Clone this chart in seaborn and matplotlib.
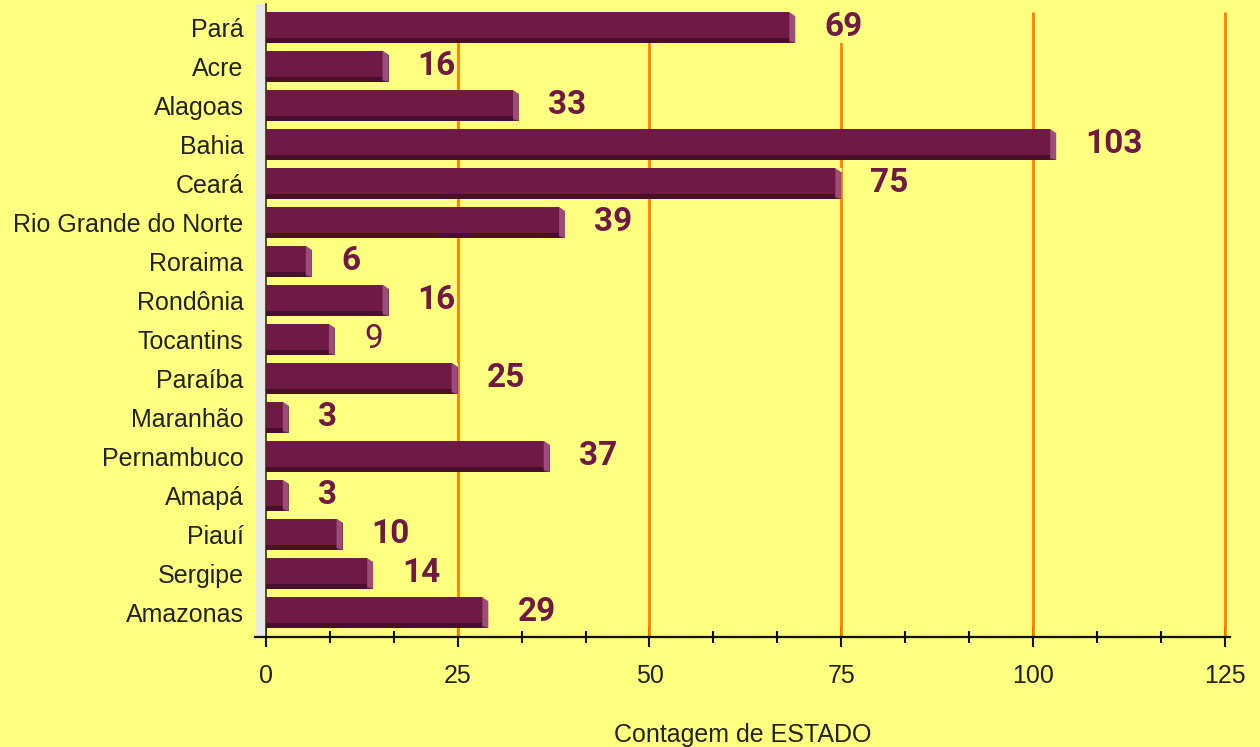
import matplotlib
matplotlib.use("Agg")
import matplotlib.pyplot as plt
import seaborn as sns
import pandas as pd
from matplotlib.patches import Polygon, Rectangle

states = ["Pará", "Acre", "Alagoas", "Bahia", "Ceará", "Rio Grande do Norte",
          "Roraima", "Rondônia", "Tocantins", "Paraíba", "Maranhão",
          "Pernambuco", "Amapá", "Piauí", "Sergipe", "Amazonas"]
counts = [69, 16, 33, 103, 75, 39, 6, 16, 9, 25, 3, 37, 3, 10, 14, 29]
bold_labels = [True] * 16
bold_labels[8] = False  # "9" is drawn in regular weight
x_ticks = [0, 25, 50, 75, 100, 125]
x_label = "Contagem de ESTADO"

BG = "#FFFF80"
BAR = "#6E1A45"
DARK = "#4A0E2D"
LIGHT = "#9C4C7B"
GRID = "#FF7F00"

sns.set_theme(style="white")
plt.rcParams["font.family"] = ["Liberation Sans", "DejaVu Sans"]

df = pd.DataFrame({"ESTADO": states, "n": counts})

fig = plt.figure(figsize=(12.6, 7.47), dpi=100, facecolor=BG)
ax = fig.add_axes([0.2024, 0.1473, 0.9759 - 0.2024, 0.9946 - 0.1473])
ax.set_facecolor(BG)

sns.barplot(data=df, x="n", y="ESTADO", orient="h", color=BAR, width=0.795,
            saturation=1, ax=ax, zorder=3, edgecolor="none", linewidth=0)

ax.set_xlim(-1.4, 125.6)
ax.set_ylim(15.63, -0.6)

# gray side wall
ax.axvspan(-1.3, 0, color="#E8E8E8", zorder=1, lw=0)

# grid lines
for t in x_ticks[1:]:
    ax.plot([t, t], [-0.4, 15.63], color=GRID, lw=2, zorder=2, solid_capstyle="butt")

# 3D bevels derived from the drawn bars
dx = 0.78
for p in list(ax.patches):
    if not isinstance(p, Rectangle) or p.get_height() <= 0 or p.get_zorder() != 3:
        continue
    x0, y0, w, h = p.get_x(), p.get_y(), p.get_width(), p.get_height()
    if w <= 0:
        continue
    x1 = x0 + w
    ybot = y0 + h
    ax.add_patch(Rectangle((x0, ybot - 0.13), w - dx, 0.13, facecolor=DARK,
                           edgecolor="none", zorder=4))
    ax.add_patch(Polygon([(x1 - dx, y0), (x1, y0 + 0.1), (x1, ybot), (x1 - dx, ybot - 0.05)],
                         closed=True, facecolor=LIGHT, edgecolor="none", zorder=4))
    ax.add_patch(Polygon([(x1 - dx, y0 - 0.01), (x1 + 0.05, y0 - 0.01), (x1 + 0.05, y0 + 0.1), (x1, y0 + 0.1)],
                         closed=True, facecolor=BG, edgecolor="none", zorder=4))

# value labels
for i, (v, b) in enumerate(zip(counts, bold_labels)):
    ax.annotate(str(v), xy=(v, i), xytext=(21, 0), textcoords="offset points",
                ha="left", va="center", fontsize=24, color=BAR,
                fontweight="bold" if b else "normal", family="Roboto",
                bbox=dict(boxstyle="square,pad=0.0", facecolor=BG, edgecolor="none"),
                zorder=5)

# axes styling
for s in ["top", "right"]:
    ax.spines[s].set_visible(False)
ax.spines["left"].set_position(("data", 0))
ax.spines["left"].set_color("#333300")
ax.spines["left"].set_linewidth(1.2)
ax.spines["left"].set_zorder(2)
ax.spines["bottom"].set_color("#111111")
ax.spines["bottom"].set_linewidth(1.6)

ax.set_xticks(x_ticks)
ax.set_xticks([t + k * 25 / 3 for t in x_ticks[:-1] for k in (1, 2)], minor=True)
ax.tick_params(axis="x", which="major", direction="inout", length=15, width=1.5,
               color="#111111", labelsize=18, labelcolor="#222222", pad=12, bottom=True)
ax.tick_params(axis="x", which="minor", direction="inout", length=9, width=1.5,
               color="#111111", bottom=True)
ax.tick_params(axis="y", length=0, labelsize=18, labelcolor="#222222", pad=16)

ax.set_ylabel("")
ax.set_xlabel(x_label, fontsize=18, color="#222222", labelpad=25)

fig.savefig("out.png", dpi=100, facecolor=BG)
